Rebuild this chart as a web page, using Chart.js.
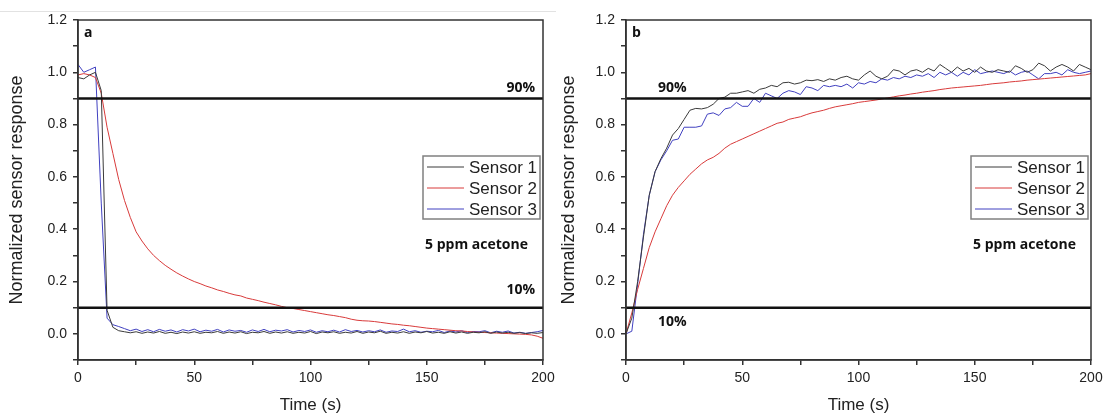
<!DOCTYPE html>
<html>
<head>
<meta charset="utf-8">
<script src="https://cdn.jsdelivr.net/npm/chart.js@4.4.1/dist/chart.umd.min.js"></script>
<style>
  body { margin: 0; background: #fff; }
  #wrap { position: relative; width: 1105px; height: 414px; overflow: hidden; }
  #sep { position: absolute; left: 0; top: 11px; width: 556px; height: 1px; background: #e2e2e2; }
  #graficoA { position: absolute; left: 0; top: 0; }
  #graficoB { position: absolute; left: 552px; top: 0; }
</style>
</head>
<body>
<div id="wrap">
  <div id="sep"></div>
  <canvas id="graficoA" width="566" height="414"></canvas>
  <canvas id="graficoB" width="553" height="414"></canvas>
</div>
<script>
// Dados (tempo em s, resposta normalizada)
const timeS = [0,2.5,5,7.5,10,12.5,15,17.5,20,22.5,25,27.5,30,32.5,35,37.5,40,42.5,45,47.5,
  50,52.5,55,57.5,60,62.5,65,67.5,70,72.5,75,77.5,80,82.5,85,87.5,90,92.5,95,97.5,
  100,102.5,105,107.5,110,112.5,115,117.5,120,122.5,125,127.5,130,132.5,135,137.5,140,142.5,145,147.5,
  150,152.5,155,157.5,160,162.5,165,167.5,170,172.5,175,177.5,180,182.5,185,187.5,190,192.5,195,197.5,200];

const sensorNames = ["Sensor 1", "Sensor 2", "Sensor 3"];
const sensorColors = ["#3a3a3a", "#d83a3a", "#4040c0"];
const thresholds = [0.9, 0.1];
const thresholdLabels = ["90%", "10%"];
const gasLabel = "5 ppm acetone";

// painel a: recuperação
const aSensor1 = [0.98,0.975,0.99,1.0,0.93,0.09,0.025,0.012,0.008,
  0.004,0.008,0.002,0.007,0.003,0.009,0.002,0.006,0.001,0.007,
  0.003,0.008,0.002,0.006,0.004,0.009,0.002,0.007,0.003,0.008,
  0.001,0.006,0.004,0.009,0.002,0.007,0.003,0.008,0.002,0.006,
  0.003,0.009,0.001,0.007,0.004,0.008,0.002,0.006,0.003,0.009,
  0.002,0.007,0.004,0.010,0.002,0.006,0.003,0.008,0.002,0.007,
  0.004,0.009,0.003,0.006,0.002,0.008,0.003,0.007,0.002,0.006,
  0.004,0.008,0.002,0.007,0.003,0.006,0.002,0.005,0.001,0.004,
  0.002,0.005];
const aSensor2 = [0.99,0.995,0.99,0.98,0.92,0.79,0.69,0.59,0.51,0.445,0.39,0.355,0.325,0.30,0.28,0.262,0.247,0.233,0.221,0.21,
  0.2,0.192,0.183,0.176,0.168,0.162,0.155,0.149,0.145,0.137,0.132,0.127,0.121,0.116,0.111,0.105,0.1,0.097,0.093,0.089,
  0.085,0.081,0.077,0.073,0.07,0.066,0.062,0.056,0.052,0.05,0.049,0.047,0.044,0.041,0.038,0.036,0.033,0.031,0.028,0.025,
  0.022,0.02,0.018,0.016,0.014,0.012,0.011,0.009,0.007,0.006,0.005,0.004,0.003,0.002,0.001,0.0,-0.001,-0.002,-0.004,-0.009,-0.017];
const aSensor3 = [1.03,1.0,1.01,1.02,0.5,0.06,0.035,0.028,0.02,
  0.012,0.018,0.009,0.016,0.008,0.017,0.010,0.015,0.007,0.016,
  0.011,0.018,0.008,0.014,0.010,0.017,0.007,0.015,0.010,0.013,
  0.006,0.015,0.009,0.017,0.008,0.014,0.011,0.016,0.007,0.013,
  0.009,0.015,0.006,0.012,0.008,0.014,0.007,0.016,0.009,0.013,
  0.007,0.012,0.008,0.015,0.006,0.011,0.009,0.018,0.008,0.012,
  0.006,0.010,0.008,0.013,0.005,0.011,0.007,0.012,0.005,0.009,
  0.008,0.012,0.004,0.010,0.006,0.011,0.003,0.006,0.002,0.005,
  0.008,0.013];

// painel b: resposta
const bSensor1 = [0.0,0.06,0.2,0.37,0.53,0.62,0.67,0.71,0.76,0.785,0.82,0.855,0.862,0.86,0.865,0.878,0.9,0.905,0.92,0.92,
  0.925,0.93,0.92,0.935,0.94,0.95,0.945,0.96,0.962,0.955,0.96,0.97,0.968,0.972,0.965,0.975,0.97,0.98,0.985,0.975,
  0.97,0.99,1.005,0.985,0.975,0.985,1.01,1.005,0.99,1.005,1.01,1.0,1.015,1.005,1.03,1.015,1.0,1.02,1.005,1.015,
  1.0,1.02,1.005,1.0,1.01,1.005,1.0,1.025,1.015,1.0,1.01,1.035,1.025,1.005,1.02,1.03,1.02,1.005,1.03,1.02,1.01];
const bSensor2 = [0.0,0.08,0.17,0.25,0.33,0.39,0.44,0.49,0.53,0.56,0.585,0.61,0.63,0.65,0.665,0.675,0.69,0.71,0.725,0.735,
  0.745,0.755,0.765,0.775,0.785,0.795,0.805,0.81,0.82,0.825,0.83,0.838,0.845,0.85,0.855,0.862,0.868,0.872,0.876,0.88,
  0.885,0.888,0.891,0.894,0.898,0.902,0.906,0.91,0.913,0.917,0.92,0.924,0.927,0.93,0.934,0.937,0.94,0.942,0.944,0.946,
  0.948,0.95,0.953,0.956,0.958,0.96,0.963,0.965,0.967,0.97,0.972,0.974,0.976,0.978,0.98,0.982,0.984,0.986,0.988,0.99,0.995];
const bSensor3 = [0.0,0.01,0.19,0.38,0.53,0.62,0.665,0.70,0.74,0.745,0.79,0.79,0.79,0.795,0.84,0.845,0.835,0.86,0.865,0.885,
  0.87,0.87,0.9,0.885,0.92,0.91,0.90,0.92,0.93,0.925,0.915,0.945,0.94,0.93,0.95,0.945,0.95,0.945,0.955,0.94,
  0.96,0.955,0.965,0.96,0.975,0.97,0.98,0.975,0.985,0.98,0.99,0.985,0.995,0.98,1.0,0.99,1.0,0.985,1.0,0.99,
  1.01,0.995,1.0,1.005,1.0,0.995,1.005,0.99,1.0,1.005,0.99,0.975,0.995,0.995,1.0,0.99,1.01,1.0,0.995,1.0,1.005];

const TICK_FONT = "'Liberation Sans', Arial, sans-serif";
const NOTE_FONT = "bold 14px 'Open Sans', sans-serif";

function pontos(values) {
    return values.map((v, i) => ({ x: timeS[i], y: v }));
}

// moldura, legenda e anotações do painel
const painelPlugin = {
    id: "painel",
    afterDraw(chart) {
        const o = chart.options.plugins.painel;
        const ctx = chart.ctx;
        const a = chart.chartArea;
        const xs = chart.scales.x;
        const ys = chart.scales.y;
        ctx.save();
        // moldura
        ctx.strokeStyle = "#333";
        ctx.lineWidth = 1.5;
        ctx.strokeRect(a.left, a.top, a.right - a.left, a.bottom - a.top);

        // legenda
        const bx = a.right - 120, by = a.top + 136, bw = 117, bh = 63;
        ctx.strokeStyle = "#808080";
        ctx.lineWidth = 1.5;
        ctx.strokeRect(bx, by, bw, bh);
        ctx.font = "17px " + TICK_FONT;
        ctx.textBaseline = "middle";
        ctx.textAlign = "left";
        sensorNames.forEach((name, i) => {
            const ry = by + 11 + i * 21;
            ctx.strokeStyle = sensorColors[i];
            ctx.lineWidth = 1;
            ctx.beginPath();
            ctx.moveTo(bx + 4, ry);
            ctx.lineTo(bx + 41, ry);
            ctx.stroke();
            ctx.fillStyle = "#222";
            ctx.fillText(name, bx + 46, ry + 1);
        });

        // textos
        ctx.fillStyle = "#111";
        ctx.textBaseline = "alphabetic";
        ctx.font = "bold 14px 'Open Sans', sans-serif";
        ctx.fillText(o.letter, a.left + 6, a.top + 17);
        ctx.font = NOTE_FONT;
        if (o.notesRight) {
            ctx.textAlign = "right";
            ctx.fillText(thresholdLabels[0], a.right - 8, ys.getPixelForValue(thresholds[0]) - 6);
            ctx.fillText(thresholdLabels[1], a.right - 8, ys.getPixelForValue(thresholds[1]) - 14);
        } else {
            ctx.textAlign = "left";
            ctx.fillText(thresholdLabels[0], xs.getPixelForValue(0) + 32, ys.getPixelForValue(thresholds[0]) - 6);
            ctx.fillText(thresholdLabels[1], xs.getPixelForValue(0) + 32, ys.getPixelForValue(thresholds[1]) + 18);
        }
        ctx.textAlign = "right";
        ctx.fillText(gasLabel, a.right - 15, a.top + 229);
        ctx.restore();
    }
};

function criarPainel(id, series, letter, notesRight, padRight, axisWidth) {
    const ctx = document.getElementById(id).getContext("2d");
    const datasets = series.map((vals, i) => ({
        label: sensorNames[i],
        data: pontos(vals),
        borderColor: sensorColors[i],
        borderWidth: 1,
        pointRadius: 0,
        tension: 0,
        order: 2
    }));
    thresholds.forEach(t => {
        datasets.push({
            label: "limite " + t,
            data: [{ x: 0, y: t }, { x: 200, y: t }],
            borderColor: "#111",
            borderWidth: 2.5,
            pointRadius: 0,
            order: 1
        });
    });
    new Chart(ctx, {
        type: "line",
        data: { datasets: datasets },
        plugins: [painelPlugin],
        options: {
            responsive: false,
            animation: false,
            devicePixelRatio: 1,
            layout: { padding: { top: 20, right: padRight, left: 0, bottom: 0 } },
            plugins: {
                legend: { display: false },
                tooltip: { enabled: false },
                painel: { letter: letter, notesRight: notesRight }
            },
            scales: {
                x: {
                    type: "linear",
                    min: 0,
                    max: 200,
                    afterFit: s => { s.height = 54; s.paddingLeft = 0; s.paddingRight = 0; },
                    border: { color: "#333", width: 1.5 },
                    grid: { drawOnChartArea: false, color: "#333", tickLength: 5, lineWidth: 1.5 },
                    ticks: {
                        stepSize: 25,
                        autoSkip: false,
                        maxRotation: 0,
                        padding: 5,
                        color: "#222",
                        font: { size: 14, family: TICK_FONT },
                        callback: v => (v % 50 === 0 ? String(v) : "")
                    },
                    title: {
                        display: true,
                        text: "Time (s)",
                        color: "#222",
                        font: { size: 17, family: TICK_FONT, lineHeight: 1 },
                        padding: { top: 0, bottom: 0 }
                    }
                },
                y: {
                    min: -0.1,
                    max: 1.2,
                    afterFit: s => { s.width = axisWidth; s.paddingTop = 0; s.paddingBottom = 0; },
                    border: { color: "#333", width: 1.5 },
                    grid: { drawOnChartArea: false, color: "#333", tickLength: 5, lineWidth: 1.5 },
                    ticks: {
                        stepSize: 0.1,
                        autoSkip: false,
                        padding: 6,
                        color: "#222",
                        font: { size: 14, family: TICK_FONT },
                        callback: v => {
                            const k = Math.round(v * 10);
                            return (k >= 0 && k % 2 === 0) ? (k / 10).toFixed(1) : "";
                        }
                    },
                    title: {
                        display: true,
                        text: "Normalized sensor response",
                        color: "#222",
                        font: { size: 18, family: TICK_FONT, lineHeight: 1 },
                        padding: { top: 8, bottom: 0 }
                    }
                }
            }
        }
    });
}

document.addEventListener("DOMContentLoaded", () => {
    criarPainel("graficoA", [aSensor1, aSensor2, aSensor3], "a", true, 23, 78);
    criarPainel("graficoB", [bSensor1, bSensor2, bSensor3], "b", false, 14, 74);
});
</script>
</body>
</html>
